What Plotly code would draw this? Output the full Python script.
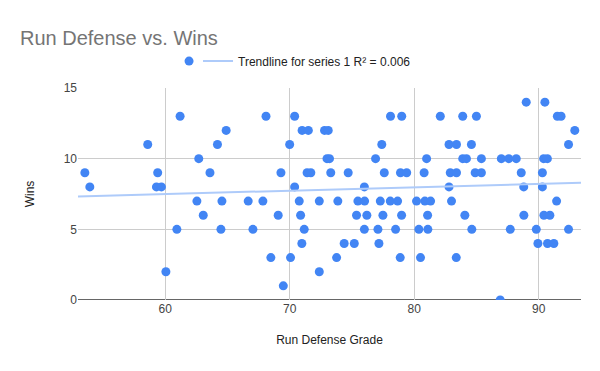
import numpy as np
import plotly.graph_objects as go

# Run defense grade (x) and wins (y)
grade = [
    89.0, 90.5,
    61.2, 68.1, 70.4, 78.1, 79.0, 82.1, 83.9, 85.0, 91.5, 91.8,
    64.9, 71.0, 71.5, 72.8, 73.1, 92.9,
    58.6, 64.2, 70.0, 77.4, 82.8, 83.4, 84.6, 92.4,
    62.7, 73.0, 73.2, 76.9, 81.0, 83.9, 84.2, 85.4, 87.0, 87.6, 88.2, 90.4, 90.7,
    53.55, 59.4, 63.6, 69.3, 71.4, 71.7, 73.3, 74.7, 77.6, 78.9, 79.4, 80.8, 82.9, 83.4, 84.9, 85.4, 88.6, 90.3,
    53.95, 59.3, 59.7, 70.4, 76.0, 82.8, 88.8, 90.3,
    62.55, 64.56, 66.67, 67.85, 70.77, 72.38, 73.87, 75.48, 76.02, 77.28, 78.08, 78.67, 80.19, 80.86, 81.32, 83.0, 91.44,
    63.06, 69.08, 70.88, 75.37, 76.2, 77.49, 78.99, 81.08, 84.07, 88.81, 90.42, 90.9,
    60.94, 64.48, 67.05, 71.17, 76.0, 77.09, 78.51, 80.38, 81.1, 84.63, 87.72, 89.81, 92.4,
    70.98, 74.38, 75.19, 77.17, 89.94, 90.71, 91.22,
    68.49, 70.07, 73.77, 78.88, 80.51, 83.38,
    60.06, 72.38,
    69.49,
    86.91,
]
wins = (
    [14] * 2 + [13] * 10 + [12] * 6 + [11] * 8 + [10] * 13 + [9] * 18 + [8] * 8
    + [7] * 17 + [6] * 12 + [5] * 13 + [4] * 7 + [3] * 6 + [2] * 2 + [1] * 1 + [0] * 1
)

x_ticks = [60, 70, 80, 90]
y_ticks = [0, 5, 10, 15]
x_range = [53.0, 93.4]
y_range = [0, 15]
trend_label = "Trendline for series 1 R² = 0.006"

slope, intercept = np.polyfit(grade, wins, 1)
trend_x = np.array(x_range)
trend_y = slope * trend_x + intercept

fig = go.Figure()
fig.add_trace(go.Scatter(
    x=grade, y=wins, mode="markers", name="", legend="legend",
    marker=dict(color="#4285F4", size=9, line=dict(width=0)),
    cliponaxis=True,
))
fig.add_trace(go.Scatter(
    x=trend_x, y=trend_y, mode="lines", name=trend_label, legend="legend2",
    line=dict(color="#AECBFA", width=2),
))

# page has an 8px body margin, so the figure is 592x363 placed at (8, 8)
fig.update_layout(
    width=592, height=363,
    margin=dict(l=70, r=19, t=80, b=71, autoexpand=False),
    paper_bgcolor="white", plot_bgcolor="white",
    font=dict(family="Arial, Liberation Sans, sans-serif", size=12, color="#222222"),
    title=dict(
        text="Run Defense vs. Wins", xref="container", x=12 / 592, xanchor="left",
        yref="container", y=1 - 30 / 363, yanchor="middle",
        font=dict(size=20, color="#757575"),
    ),
    legend=dict(
        orientation="h", x=0.181, xanchor="left", y=1.127, yanchor="middle",
        font=dict(size=12, color="#222222"), itemwidth=30,
        bgcolor="rgba(0,0,0,0)",
    ),
    legend2=dict(
        orientation="h", x=0.2386, xanchor="left", y=1.127, yanchor="middle",
        font=dict(size=12, color="#222222"), itemwidth=30,
        bgcolor="rgba(0,0,0,0)",
    ),
    xaxis=dict(
        range=x_range, tickvals=x_ticks, showgrid=True, gridcolor="#CCCCCC",
        zeroline=False, showline=False, ticks="",
        tickfont=dict(size=12, color="#444444"),
        title=dict(text="Run Defense Grade", font=dict(size=12, color="#222222"), standoff=20),
    ),
    yaxis=dict(
        range=y_range, tickvals=y_ticks, showgrid=True, gridcolor="#CCCCCC",
        zeroline=False, showline=False, ticks="",
        tickfont=dict(size=12, color="#444444"),
        title=dict(text="Wins", font=dict(size=12, color="#222222"), standoff=26),
    ),
    showlegend=True,
)
# dark baseline at y = 0
fig.add_shape(type="line", xref="paper", yref="y", x0=0, x1=1, y0=0, y1=0,
              line=dict(color="#333333", width=1.3), layer="below")

fig.write_html("out.html")
